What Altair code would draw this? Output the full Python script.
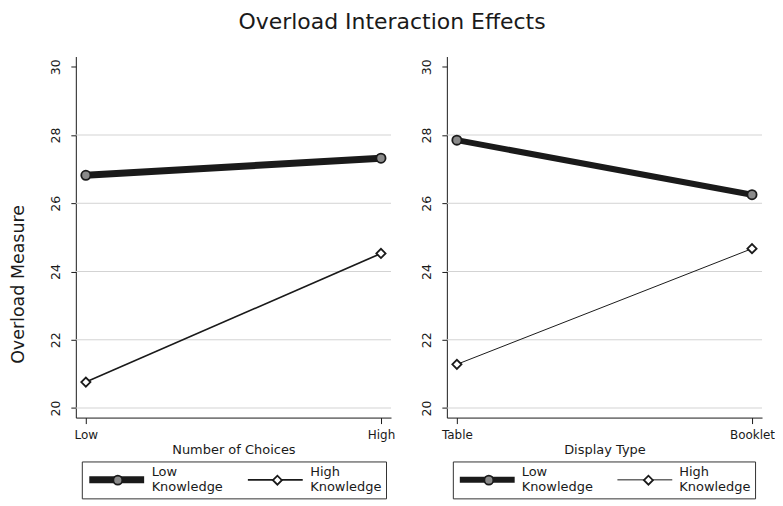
import altair as alt
import pandas as pd

groups = ["Low Knowledge", "High Knowledge"]
choice_levels = ["Low", "High"]
choice_low_knowledge = [26.82, 27.32]
choice_high_knowledge = [20.76, 24.53]
display_levels = ["Table", "Booklet"]
display_low_knowledge = [27.85, 26.25]
display_high_knowledge = [21.28, 24.67]
y_ticks = [20, 22, 24, 26, 28, 30]
grid_values = [20, 22, 24, 26, 28]

FONT = "DejaVu Sans"
INK = "#1a1a1a"
CIRCLE_FILL = "#8a8a8a"


def make_df(levels, low, high):
    rows = []
    for lv, v in zip(levels, low):
        rows.append({"level": lv, "group": groups[0], "value": v})
    for lv, v in zip(levels, high):
        rows.append({"level": lv, "group": groups[1], "value": v})
    return pd.DataFrame(rows)


def panel(df, levels, xtitle, ytitle, widths):
    x = alt.X("level:N", sort=levels, title=xtitle,
              scale=alt.Scale(domain=levels, padding=0.034),
              axis=alt.Axis(labelAngle=0, tickSize=6, labelPadding=6,
                            labelFontSize=12, titleFontSize=13, titlePadding=3,
                            domainColor=INK, tickColor=INK))

    def yenc(field):
        return alt.Y(field, title=ytitle,
                     scale=alt.Scale(domain=[19.72, 30.3], nice=False, zero=False),
                     axis=alt.Axis(values=y_ticks, grid=False, labelAngle=270,
                                   tickSize=5, labelPadding=8, labelFontSize=12.5,
                                   titleFontSize=17.5, titleX=-57.5, titleY=228,
                                   titleBaseline="middle", titleAlign="center",
                                   domainColor=INK, tickColor=INK))

    grid = alt.Chart(pd.DataFrame({"g": grid_values})).mark_rule(
        color="#d3d3d3", strokeWidth=1).encode(y=yenc("g:Q"))

    legA = alt.Legend(orient="none", legendX=6, legendY=406, direction="horizontal",
                      columns=2, title=None, symbolType="M-1,0.27L1,0.27",
                      symbolSize=3025, symbolFillColor="transparent",
                      symbolStrokeColor=INK, labelExpr="split(datum.label, ' ')",
                      labelFont=FONT, labelFontSize=13, labelColor=INK,
                      labelOffset=4, columnPadding=21, strokeColor="#333",
                      fillColor="white", padding=4, labelBaseline="middle",
                      clipHeight=14)
    lines = alt.Chart(df).mark_line(color=INK).encode(
        x=x, y=yenc("value:Q"),
        strokeWidth=alt.StrokeWidth("group:N", sort=groups,
                                    scale=alt.Scale(range=widths), legend=legA))

    legB = alt.Legend(orient="none", legendX=6, legendY=406, direction="horizontal",
                      columns=2, title=None, symbolSize=81, symbolStrokeColor=INK,
                      symbolStrokeWidth=1.8,
                      symbolFillColor=alt.ExprRef(
                          f"datum.value == '{groups[0]}' ? '{CIRCLE_FILL}' : 'white'"),
                      labelExpr="split(datum.label, ' ')",
                      labelFont=FONT, labelFontSize=13, labelOpacity=0,
                      symbolOffset=25.6, labelOffset=29.6, columnPadding=20,
                      padding=4, labelBaseline="middle", clipHeight=29)
    points = alt.Chart(df).mark_point(filled=True, stroke=INK, strokeWidth=1.8,
                                      size=85, opacity=1).encode(
        x=x, y=yenc("value:Q"),
        shape=alt.Shape("group:N", scale=alt.Scale(domain=groups, range=["circle", "diamond"]),
                        legend=legB),
        fill=alt.Fill("group:N", scale=alt.Scale(domain=groups, range=[CIRCLE_FILL, "white"]),
                      legend=None))

    return alt.layer(grid, lines, points).properties(width=316, height=362)


left = panel(make_df(choice_levels, choice_low_knowledge, choice_high_knowledge),
             choice_levels, "Number of Choices", "Overload Measure", [7, 1.6])
right = panel(make_df(display_levels, display_low_knowledge, display_high_knowledge),
              display_levels, "Display Type", None, [6, 1])

chart = alt.hconcat(left, right, spacing=26).resolve_scale(
    x="independent", y="independent", strokeWidth="independent",
    shape="independent", fill="independent"
).resolve_legend(
    strokeWidth="independent", shape="independent", fill="independent"
).properties(
    title=alt.TitleParams("Overload Interaction Effects", fontSize=22, font=FONT,
                          fontWeight="normal", anchor="middle", color=INK, offset=23),
    padding={"left": 1, "top": 2, "right": 0, "bottom": 0}
).configure_view(stroke=None).configure_axis(
    labelFont=FONT, titleFont=FONT, titleFontWeight="normal",
    labelColor=INK, titleColor=INK
)

chart.save("out.html", embed_options={"renderer": "svg", "actions": False})
